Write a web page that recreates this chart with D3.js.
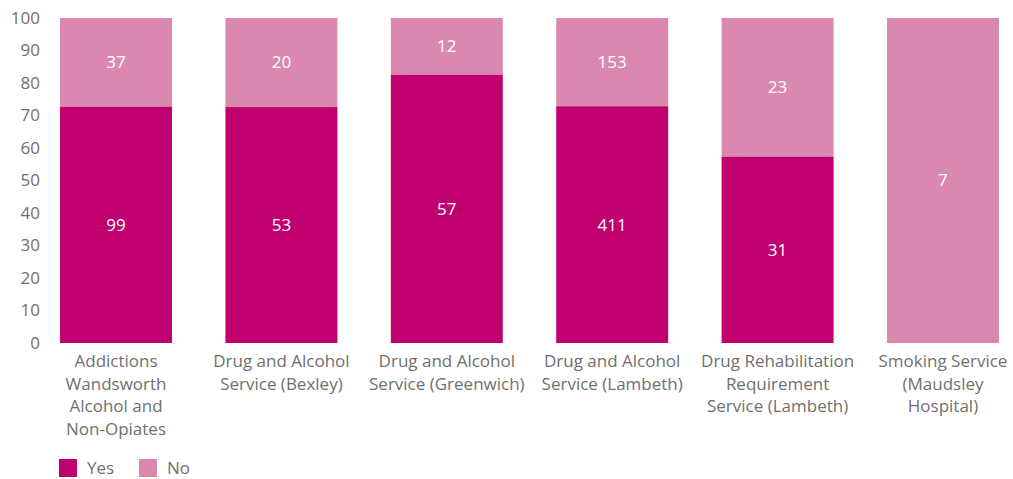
<!DOCTYPE html>
<html>
<head>
<meta charset="utf-8">
<script src="https://cdn.jsdelivr.net/npm/d3@7"></script>
<style>
  html, body { margin: 0; padding: 0; background: #fff; }
  svg { display: block; font-family: "Open Sans", "Noto Sans", sans-serif; }
</style>
</head>
<body>
<svg id="chart" width="1013" height="479"></svg>
<script>
const categories = [
  ["Addictions", "Wandsworth", "Alcohol and", "Non-Opiates"],
  ["Drug and Alcohol", "Service (Bexley)"],
  ["Drug and Alcohol", "Service (Greenwich)"],
  ["Drug and Alcohol", "Service (Lambeth)"],
  ["Drug Rehabilitation", "Requirement", "Service (Lambeth)"],
  ["Smoking Service", "(Maudsley", "Hospital)"]
];
const yesCounts = [99, 53, 57, 411, 31, 0];
const noCounts  = [37, 20, 12, 153, 23, 7];
const seriesNames = ["Yes", "No"];
const yTicks = [0, 10, 20, 30, 40, 50, 60, 70, 80, 90, 100];

const colors = { Yes: "#c0006f", No: "#da88b0" };
const textColor = "#6f6f6f";

const svg = d3.select("#chart");

const rows = categories.map((c, i) => {
  const total = yesCounts[i] + noCounts[i];
  return {
    key: i,
    label: c,
    Yes: yesCounts[i] / total * 100,
    No: noCounts[i] / total * 100,
    YesN: yesCounts[i],
    NoN: noCounts[i]
  };
});

const x = d3.scaleBand()
  .domain(rows.map(d => d.key))
  .range([44, 1015])
  .paddingInner(0.323)
  .paddingOuter(0.097);

const y = d3.scaleLinear().domain([0, 100]).range([343, 18]);

const stacked = d3.stack().keys(seriesNames)(rows);

const g = svg.append("g");
stacked.forEach(layer => {
  const name = layer.key;
  const grp = g.append("g").attr("fill", colors[name]);
  grp.selectAll("rect").data(layer).join("rect")
    .attr("x", d => x(d.data.key))
    .attr("width", x.bandwidth())
    .attr("y", d => y(d[1]))
    .attr("height", d => y(d[0]) - y(d[1]));
  g.append("g").selectAll("text").data(layer.filter(d => d.data[name + "N"] > 0)).join("text")
    .attr("x", d => x(d.data.key) + x.bandwidth() / 2)
    .attr("y", d => (y(d[0]) + y(d[1])) / 2)
    .attr("dy", "0.35em")
    .attr("text-anchor", "middle")
    .attr("fill", "#ffffff")
    .attr("font-size", 17)
    .text(d => d.data[name + "N"]);
});

// Y axis
const yAxis = d3.axisLeft(y).tickValues(yTicks).tickSize(0).tickPadding(0);
const ya = svg.append("g").attr("transform", "translate(40,0)").call(yAxis);
ya.select(".domain").remove();
ya.selectAll("text").attr("font-size", 17).attr("fill", textColor)
  .attr("font-family", "Open Sans, Noto Sans, sans-serif");

// X axis labels
const xAxis = d3.axisBottom(x).tickSize(0).tickFormat(() => "");
const xa = svg.append("g").attr("transform", "translate(0,343)").call(xAxis);
xa.select(".domain").remove();
xa.selectAll(".tick").each(function(k) {
  const t = d3.select(this).select("text");
  t.text(null).attr("font-size", 17).attr("fill", textColor)
    .attr("font-family", "Open Sans, Noto Sans, sans-serif")
    .attr("y", 0).attr("dy", null);
  categories[k].forEach((line, j) => {
    t.append("tspan").attr("x", 0).attr("y", 24 + j * 22.5).text(line);
  });
});

// Legend
const legend = svg.append("g").attr("transform", "translate(59,459)");
seriesNames.forEach((name, i) => {
  const lg = legend.append("g").attr("transform", `translate(${i * 80},0)`);
  lg.append("rect").attr("width", 18).attr("height", 18).attr("fill", colors[name]);
  lg.append("text").attr("x", 28).attr("y", 9).attr("dy", "0.35em")
    .attr("font-size", 17).attr("fill", textColor).text(name);
});
</script>
</body>
</html>
